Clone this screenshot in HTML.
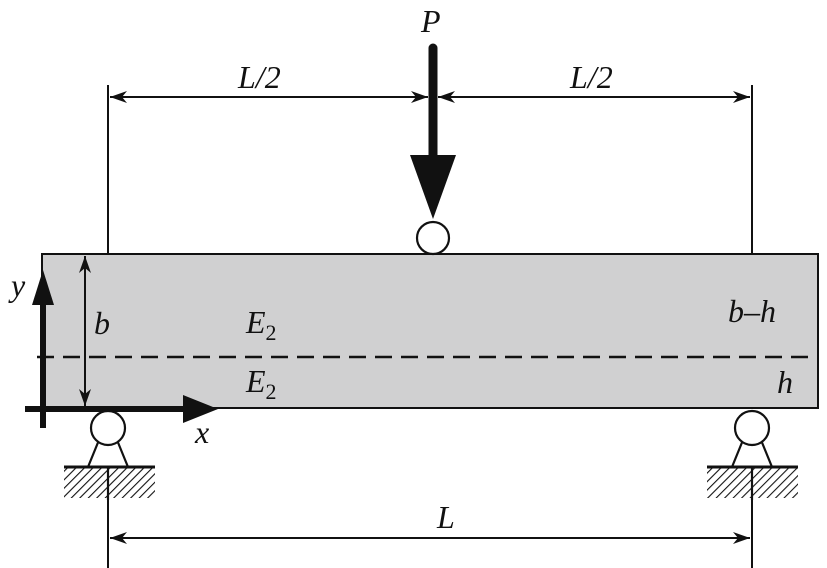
<!DOCTYPE html>
<html><head><style>body{margin:0;background:#fff}svg{display:block}text{font-family:"Liberation Serif",serif;font-style:italic;fill:#111}</style></head>
<body>
<svg width="827" height="568" viewBox="0 0 827 568">
<defs>
<pattern id="h" width="6" height="6" patternUnits="userSpaceOnUse" patternTransform="rotate(45)"><rect width="6" height="6" fill="#fff"/><line x1="0" y1="0" x2="0" y2="6" stroke="#111" stroke-width="2.2"/></pattern>
<marker id="a" markerWidth="18" markerHeight="12" refX="17" refY="6" orient="auto" markerUnits="userSpaceOnUse"><path d="M0,0 L17,6 L0,12 L5,6Z" fill="#111"/></marker>
</defs>
<rect x="42" y="254" width="776" height="154" fill="#d0d0d1" stroke="#111" stroke-width="2"/>
<line x1="37" y1="357" x2="818" y2="357" stroke="#111" stroke-width="2.5" stroke-dasharray="17,9"/>
<g stroke="#111" stroke-width="2">
<line x1="108" y1="85" x2="108" y2="254"/><line x1="752" y1="85" x2="752" y2="254"/>
<line x1="108" y1="467" x2="108" y2="568"/><line x1="752" y1="467" x2="752" y2="568"/>
<line x1="428" y1="97" x2="110" y2="97" marker-end="url(#a)"/>
<line x1="110" y1="97" x2="428" y2="97" marker-end="url(#a)"/>
<line x1="438" y1="97" x2="750" y2="97" marker-end="url(#a)"/>
<line x1="750" y1="97" x2="438" y2="97" marker-end="url(#a)"/>
<line x1="110" y1="538" x2="750" y2="538" marker-end="url(#a)"/>
<line x1="750" y1="538" x2="110" y2="538" marker-end="url(#a)"/>
<line x1="85" y1="256" x2="85" y2="406" marker-end="url(#a)"/>
<line x1="85" y1="406" x2="85" y2="256" marker-end="url(#a)"/>
</g>
<line x1="433" y1="48" x2="433" y2="160" stroke="#111" stroke-width="9" stroke-linecap="round"/>
<path d="M410,155 L456,155 L433,219Z" fill="#111"/>
<circle cx="433" cy="238" r="16" fill="#fff" stroke="#111" stroke-width="2.2"/>
<line x1="43" y1="300" x2="43" y2="428" stroke="#111" stroke-width="6"/>
<path d="M43,270 L32,305 L54,305Z" fill="#111"/>
<line x1="25" y1="409" x2="190" y2="409" stroke="#111" stroke-width="6"/>
<path d="M218,409 L183,395 L183,423Z" fill="#111"/>
<g stroke="#111" stroke-width="2.2" fill="#fff">
<rect x="64" y="467" width="91" height="31" fill="url(#h)" stroke="none"/>
<rect x="707" y="467" width="91" height="31" fill="url(#h)" stroke="none"/>
<line x1="108" y1="467" x2="108" y2="500"/><line x1="752" y1="467" x2="752" y2="500"/>
<path d="M99,440 L88,467 M117,440 L128,467" fill="none"/>
<path d="M743,440 L732,467 M761,440 L772,467" fill="none"/>
<line x1="64" y1="467" x2="155" y2="467" stroke-width="3"/>
<line x1="707" y1="467" x2="798" y2="467" stroke-width="3"/>
<circle cx="108" cy="428" r="17"/><circle cx="752" cy="428" r="17"/>
</g>
<g font-size="32">
<text x="421" y="32">P</text>
<text x="238" y="88">L/2</text>
<text x="570" y="88">L/2</text>
<text x="437" y="528">L</text>
<text x="246" y="333">E<tspan font-size="22" font-style="normal" dy="7">2</tspan></text>
<text x="246" y="392">E<tspan font-size="22" font-style="normal" dy="7">2</tspan></text>
<text x="94" y="334">b</text>
<text x="728" y="322">b–h</text>
<text x="777" y="393">h</text>
<text x="11" y="296">y</text>
<text x="195" y="443">x</text>
</g>
</svg>
</body></html>
